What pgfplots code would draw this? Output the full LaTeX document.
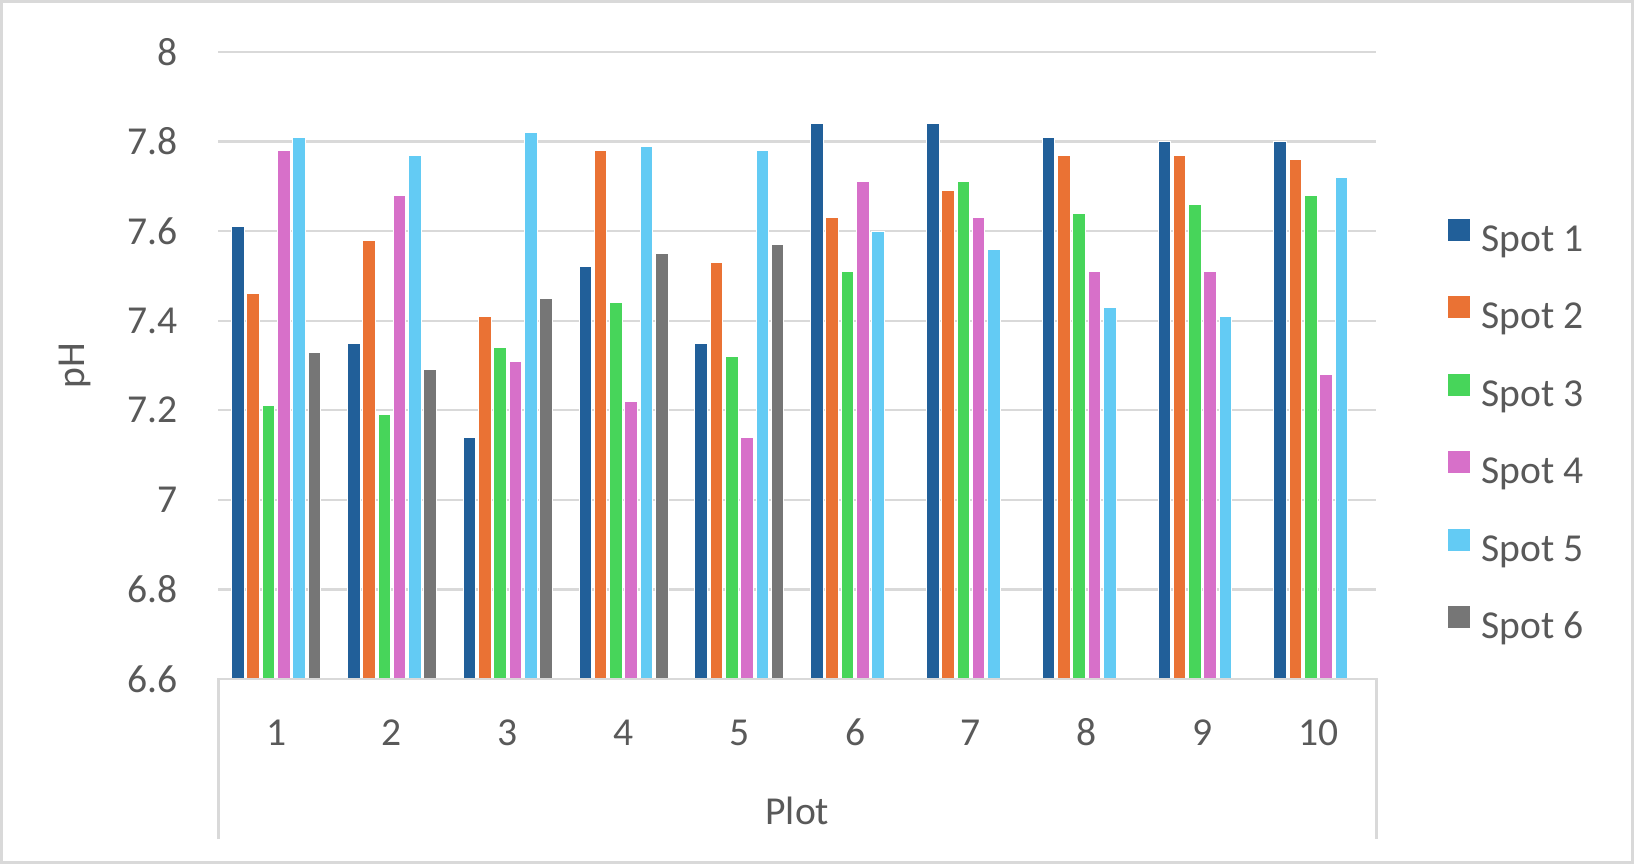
\documentclass[border=0pt]{standalone}
\usepackage{fontspec}
\setmainfont{Carlito}
\usepackage{pgfplots}
\pgfplotsset{compat=1.18}
\definecolor{c1}{HTML}{215F99}
\definecolor{c2}{HTML}{EA7234}
\definecolor{c3}{HTML}{47D55A}
\definecolor{c4}{HTML}{D770C9}
\definecolor{c5}{HTML}{63CBF4}
\definecolor{c6}{HTML}{767676}
\definecolor{txt}{HTML}{595959}
\definecolor{gridc}{HTML}{D9D9D9}
\newcommand{\fs}{\fontsize{19.8bp}{24bp}\selectfont}
\begin{document}
\begin{tikzpicture}
\begin{axis}[
  at={(0,0)}, anchor=south west,
  scale only axis, width=579bp, height=313.5bp,
  xmin=0.5, xmax=10.5, ymin=6.6, ymax=8,
  ybar=1.35bp, bar width=6.3bp,
  xtick={1,2,3,4,5,6,7,8,9,10},
  ytick={6.6,6.8,7,7.2,7.4,7.6,7.8,8},
  major tick length=0pt,
  axis line style={draw=none},
  ymajorgrids, grid style={gridc, line width=1.2bp},
  /pgf/number format/assume math mode=true,
  tick label style={font=\fs, text=txt},
  yticklabel style={anchor=east, inner sep=0pt, xshift=-20bp},
  xticklabel style={anchor=base, inner sep=0pt, yshift=-33.3bp},
  every axis plot/.append style={draw=white, line width=0.5bp},
  legend image code/.code={\fill[#1] (0bp,0bp) rectangle (11.5bp,11.5bp);},
  legend style={at={(1.061,0.7360)}, anchor=north west, draw=none, fill=none,
    inner sep=0pt, row sep=17.97bp, font=\fs, text=txt,
    nodes={inner sep=0pt, text height=14bp, text depth=4bp},
    /tikz/every odd column/.append style={column sep=5bp}},
  legend cell align=left,
]
\addplot[fill=c1] coordinates {(1,7.61) (2,7.35) (3,7.14) (4,7.52) (5,7.35) (6,7.84) (7,7.84) (8,7.81) (9,7.80) (10,7.80)};
\addplot[fill=c2] coordinates {(1,7.46) (2,7.58) (3,7.41) (4,7.78) (5,7.53) (6,7.63) (7,7.69) (8,7.77) (9,7.77) (10,7.76)};
\addplot[fill=c3] coordinates {(1,7.21) (2,7.19) (3,7.34) (4,7.44) (5,7.32) (6,7.51) (7,7.71) (8,7.64) (9,7.66) (10,7.68)};
\addplot[fill=c4] coordinates {(1,7.78) (2,7.68) (3,7.31) (4,7.22) (5,7.14) (6,7.71) (7,7.63) (8,7.51) (9,7.51) (10,7.28)};
\addplot[fill=c5] coordinates {(1,7.81) (2,7.77) (3,7.82) (4,7.79) (5,7.78) (6,7.60) (7,7.56) (8,7.43) (9,7.41) (10,7.72)};
\addplot[fill=c6] coordinates {(1,7.33) (2,7.29) (3,7.45) (4,7.55) (5,7.57)};
\legend{Spot 1,Spot 2,Spot 3,Spot 4,Spot 5,Spot 6}
\end{axis}
\draw[gridc, line width=1.2bp] (0,-80bp) -- (0,0) -- (579bp,0) -- (579bp,-80bp);
\node[rotate=90, font=\fs, text=txt] at (-71.7bp,156.75bp) {pH};
\node[font=\fs, text=txt] at (289.5bp,-66bp) {Plot};
\draw[gridc, line width=1.3bp] (-108.5bp,-91.85bp) rectangle (707.2bp,338.85bp);
\end{tikzpicture}
\end{document}
